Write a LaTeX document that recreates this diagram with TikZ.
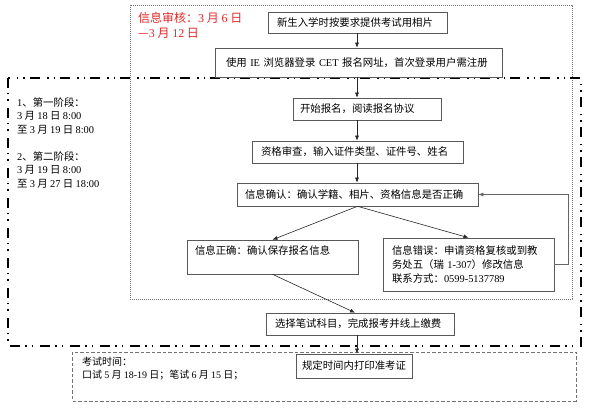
\documentclass[tikz,border=0pt]{standalone}
\usepackage{fontspec}
\setmainfont{Noto Sans CJK SC}
\newfontfamily\latfont{Liberation Serif}
\newcommand\ltn[1]{{\latfont #1}}
\usetikzlibrary{arrows.meta,calc}
\tikzset{
  box/.style={draw=black!65, line width=0.6pt, inner ysep=0pt, align=left,
    font=\fontsize{10.4}{14}\selectfont, anchor=center},
  arr/.style={draw=black!85, line width=0.6pt, -{Latex[length=5pt,width=4pt]}},
  txt/.style={inner sep=0pt, anchor=west, font=\fontsize{10.4}{13}\selectfont},
  redtxt/.style={inner sep=0pt, anchor=west, text={rgb,255:red,225;green,40;blue,40}, font=\fontsize{12}{16}\selectfont},
  dotbox/.style={draw=black!55, line width=0.5pt, dash pattern=on 0.8pt off 1.2pt},
  dashdotbox/.style={draw=black, line width=1.8pt, dash pattern=on 10pt off 5pt on 1.5pt off 5pt on 1.5pt off 7pt},
  dashbox/.style={draw=black!55, line width=0.6pt, dash pattern=on 3.5pt off 2pt}
}
\begin{document}
\begin{tikzpicture}[x=1pt,y=-1pt]
\useasboundingbox (0,0) rectangle (590,411);
% region boxes
\draw[dotbox] (130,5) rectangle (572,299);
\draw[dashdotbox] (8,78) rectangle (581,346);
\draw[dashbox] (72,352) rectangle (576,401);
% column coordinates
\coordinate (col) at (357,0);
\coordinate (fb) at (568,0);
% flow nodes
\node[box, inner xsep=9pt, text width=161pt, minimum height=21pt] (n1) at (357.5,22.5) {\mbox{新生入学时按要求提供考试用相片}};
\node[box, inner xsep=11pt, text width=265pt, minimum height=29pt] (n2) at (358.5,62.5) {\mbox{使用 \ltn{IE} 浏览器登录 \ltn{CET} 报名网址，首次登录用户需注册}};
\node[box, inner xsep=7pt, text width=134pt, minimum height=22pt] (n3) at (367,109) {\mbox{开始报名，阅读报名协议}};
\node[box, inner xsep=9pt, text width=193pt, minimum height=22pt] (n4) at (357.5,152) {\mbox{资格审查，输入证件类型、证件号、姓名}};
\node[box, inner xsep=8pt, text width=225pt, minimum height=23pt] (n5) at (357.5,194.5) {\mbox{信息确认：确认学籍、相片、资格信息是否正确}};
\node[box, inner xsep=8pt, text width=155pt, minimum height=34pt] (n6) at (272.5,257) {\mbox{信息正确：确认保存报名信息}\\\mbox{}};
\node[box, inner xsep=9pt, text width=153pt, minimum height=53pt] (n7) at (468.5,264.5) {\mbox{信息错误：申请资格复核或到教}\\\mbox{务处五（瑞 \ltn{1-307}）修改信息}\\\mbox{联系方式：\ltn{0599-5137789}}};
\node[box, inner xsep=9pt, text width=170pt, minimum height=22pt] (n8) at (360,324) {\mbox{选择笔试科目，完成报考并线上缴费}};
\node[box, inner xsep=6pt, text width=104pt, minimum height=24pt] (n9) at (354,366) {\mbox{规定时间内打印准考证}};
% connectors
\draw[arr] (n1.south -| col) -- (n2.north -| col);
\draw[arr] (n2.south -| col) -- (n3.north -| col);
\draw[arr] (n3.south -| col) -- (n4.north -| col);
\draw[arr] (n4.south -| col) -- (n5.north -| col);
\draw[arr] (n5.south) -- (n6.north);
\draw[arr] (n5.south) -- (n7.north);
\draw[arr] (n6.south) -- ([xshift=-5pt]n8.north);
\draw[arr] (n8.south -| col) -- (n9.north -| col);
\draw[arr, draw=black!60] (n7.east) -- (n7.east -| fb) -- (n5.east -| fb) -- (n5.east);
% red note
\node[redtxt] (r1) at (138,17.5) {信息审核：\ltn{3} 月 \ltn{6} 日};
\node[redtxt] (r2) at (138,33.5) {—\ltn{3} 月 \ltn{12} 日};
% stage text
\node[txt] (s1) at (17,103) {\ltn{1}、第一阶段：};
\node[txt] (s2) at (17,116) {\ltn{3} 月 \ltn{18} 日 \ltn{8:00}};
\node[txt] (s3) at (17,129.5) {至 \ltn{3} 月 \ltn{19} 日 \ltn{8:00}};
\node[txt] (s4) at (17,157) {\ltn{2}、第二阶段：};
\node[txt] (s5) at (17,170) {\ltn{3} 月 \ltn{19} 日 \ltn{8:00}};
\node[txt] (s6) at (17,183.5) {至 \ltn{3} 月 \ltn{27} 日 \ltn{18:00}};
% exam time
\node[txt, font=\fontsize{10}{13}\selectfont] (e1) at (82,362) {考试时间：};
\node[txt, font=\fontsize{10}{13}\selectfont] (e2) at (82,375.5) {口试 \ltn{5} 月 \ltn{18-19} 日；笔试 \ltn{6} 月 \ltn{15} 日；};
\end{tikzpicture}
\end{document}
